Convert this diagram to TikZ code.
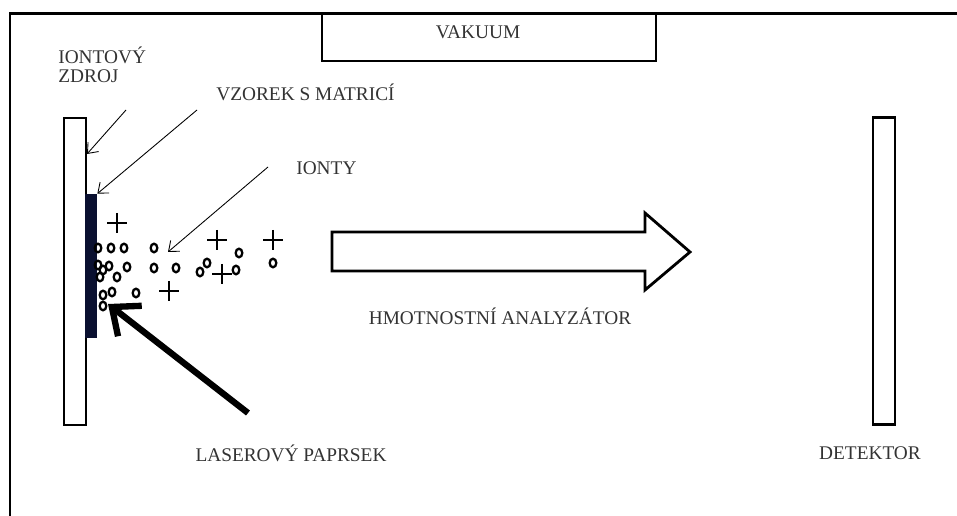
\documentclass[tikz,border=0pt]{standalone}
\usepackage{fontspec}
\setmainfont{Liberation Serif}
\usepackage{tikz}
\usetikzlibrary{arrows.meta,positioning}

\begin{document}
\begin{tikzpicture}[
    x=0.02cm, y=-0.02cm,
    popis/.style={text=black!80, inner sep=0pt, font=\fontsize{11}{12}\selectfont},
    deska/.style={rectangle, draw, line width=1.4pt, fill=white, minimum width=0.44cm, minimum height=6.14cm, inner sep=0pt},
    ukazatel/.style={line width=0.5pt, -{Straight Barb[length=5pt, width=8pt]}},
    ion/.style={line width=1.3pt},
    naboj/.style={line width=0.6pt}
]
\useasboundingbox (0,0) rectangle (957,516);
% ram komory
\draw[line width=1.7pt] (10,516) -- (10,14) -- (957,14);
\node[rectangle, draw, line width=1.6pt, minimum width=6.68cm, minimum height=0.94cm, inner sep=0pt] (vakuum) at (489,37.5) {};
\node[popis] (vakuumtext) at (478,32) {VAKUUM};
% zdroj a vzorek
\node[deska] (zdroj) at (75,271.5) {};
\node[rectangle, fill={rgb,255:red,10;green,16;blue,48}, minimum width=0.24cm, minimum height=2.88cm, inner sep=0pt] (vzorek) at (91,266) {};
\node[deska] (detektor) at (884,271) {};
% popisky
\node[popis, anchor=west, align=left] (zdrojtext) at (58,65) {IONTOVÝ\\[-1pt]ZDROJ};
\node[popis, anchor=west] (vzorektext) at (216,92) {VZOREK S MATRICÍ};
\node[popis, anchor=west] (iontytext) at (296,168) {IONTY};
\node[popis] (analyzator) at (500,316) {HMOTNOSTNÍ ANALYZÁTOR};
\node[popis] (laser) at (291,453) {LASEROVÝ PAPRSEK};
\node[popis] (detektortext) at (870,453) {DETEKTOR};
% ukazatele
\coordinate (z0) at (126,110);
\coordinate (z1) at (87,154);
\coordinate (v0) at (197,110);
\coordinate (i0) at (268,167);
\coordinate (i1) at (168,252);
\coordinate (l0) at (248,413);
\coordinate (l1) at (108,304);
\draw[ukazatel] (z0) -- (z1);
\draw[ukazatel] (v0) -- (vzorek.north east);
\draw[ukazatel] (i0) -- (i1);
\draw[line width=3.6pt, -{Straight Barb[length=13pt, width=22pt]}] (l0) -- (l1);
% analyzator
\draw[line width=1.6pt, line join=miter] (332,232) -- (645,232) -- (645,213) -- (690,252) -- (645,290) -- (645,271) -- (332,271) -- cycle;
% ionty
\foreach \x/\y in {98/248, 111/248, 124/248, 154/248, 98/265, 109/266, 127/267, 154/268, 176/268,
    200/272, 207/263, 239/253, 236/270, 273/263, 100/277, 103/270, 117/277, 103/295, 112/292,
    136/293, 103/306}
    \draw[ion] (\x,\y) ellipse (3.3 and 4.3);
\foreach \x/\y in {117/223, 217/240, 273/240, 222/274, 169/291}
    \draw[naboj] (\x-10,\y) -- (\x+10,\y) (\x,\y-10) -- (\x,\y+10);
\end{tikzpicture}
\end{document}
